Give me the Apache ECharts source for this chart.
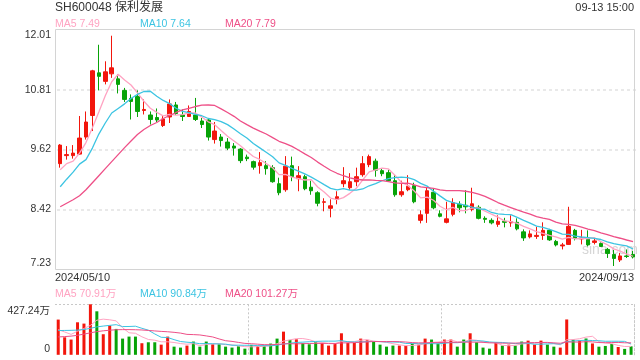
<!DOCTYPE html>
<html><head><meta charset="utf-8">
<script src="https://cdn.jsdelivr.net/npm/echarts@6/dist/echarts.min.js"></script>
<style>html,body{margin:0;padding:0;background:#fff}#c{width:640px;height:360px}</style>
</head><body><div id="c"></div>
<script>
// ---- trading days (category axis) ----
const mayDays = [10,13,14,15,16,17,20,21,22,23,24,27,28,29,30,31];
const junDays = [3,4,5,6,7,11,12,13,14,17,18,19,20,21,24,25,26,27,28];
const julDays = [1,2,3,4,5,8,9,10,11,12,15,16,17,18,19,22,23,24,25,26,29,30,31];
const augDays = [1,2,5,6,7,8,9,12,13,14,15,16,19,20,21,22,23,26,27,28,29,30];
const sepDays = [2,3,4,5,6,9,10,11,12,13];
const pad = d => (d < 10 ? '0' : '') + d;
const dates = [].concat(
  mayDays.map(d => '2024/05/' + pad(d)), junDays.map(d => '2024/06/' + pad(d)),
  julDays.map(d => '2024/07/' + pad(d)), augDays.map(d => '2024/08/' + pad(d)),
  sepDays.map(d => '2024/09/' + pad(d)));

// ---- OHLC: open, close, low, high ----
const opens  = [9.34,9.50,9.50,9.53,9.87,10.30,11.15,10.98,11.13,11.03,10.80,10.64,10.68,10.40,10.31,10.26,10.10,10.27,10.51,10.31,
                10.28,10.31,10.19,10.21,9.82,9.87,9.77,9.69,9.63,9.47,9.38,9.30,9.30,9.26,8.94,8.82,9.30,9.04,9.08,8.87,
                8.76,8.57,8.45,8.63,8.94,8.86,8.98,9.12,9.32,9.39,9.20,9.16,9.00,8.72,8.82,8.90,8.21,8.35,8.77,8.34,
                8.17,8.33,8.53,8.51,8.43,8.47,8.25,8.21,8.13,8.19,8.16,8.17,7.98,7.88,7.89,7.91,8.01,7.79,7.70,7.73,
                8.01,7.84,7.83,7.77,7.75,7.63,7.53,7.42,7.50,7.53];
const closes = [9.71,9.52,9.55,9.85,10.17,11.19,11.08,11.17,11.25,10.92,10.62,10.58,10.38,10.42,10.22,10.21,10.23,10.53,10.34,10.28,
                10.38,10.22,10.12,9.87,9.99,9.80,9.65,9.65,9.40,9.44,9.27,9.36,9.24,8.98,8.76,9.29,9.08,9.10,8.84,8.80,
                8.55,8.58,8.50,8.68,9.00,8.98,9.08,9.34,9.48,9.21,9.14,9.00,8.72,8.78,8.89,8.58,8.32,8.80,8.46,8.29,
                8.24,8.56,8.46,8.48,8.54,8.25,8.23,8.16,8.19,8.17,8.18,8.04,7.86,7.94,7.91,8.01,7.82,7.72,7.72,8.09,
                7.85,7.86,7.72,7.80,7.69,7.55,7.45,7.50,7.49,7.48];
const lows   = [9.26,9.42,9.44,9.52,9.82,9.99,10.80,10.92,11.05,10.74,10.57,10.22,10.27,10.32,10.12,10.17,10.07,10.15,10.31,10.19,
                10.27,10.19,10.05,9.80,9.74,9.68,9.61,9.50,9.35,9.39,9.22,9.14,9.12,8.96,8.71,8.78,8.99,8.79,8.81,8.72,
                8.49,8.39,8.27,8.53,8.87,8.82,8.89,9.08,9.27,9.08,9.09,8.98,8.68,8.68,8.79,8.55,8.15,8.16,8.43,8.27,
                8.15,8.29,8.37,8.35,8.39,8.23,8.16,8.13,8.08,8.07,8.08,8.01,7.80,7.85,7.84,7.82,7.80,7.69,7.63,7.72,
                7.81,7.73,7.69,7.73,7.68,7.46,7.30,7.38,7.46,7.45];
const highs  = [9.73,9.69,9.71,10.29,10.38,11.21,11.71,11.38,11.89,11.12,10.85,10.72,10.80,10.62,10.38,10.44,10.29,10.62,10.57,10.42,
                10.50,10.65,10.25,10.25,10.17,9.93,9.85,9.75,9.65,9.52,9.40,9.57,9.39,9.31,9.06,9.49,9.48,9.29,9.12,9.00,
                8.79,8.65,8.63,8.79,9.27,9.15,9.26,9.49,9.52,9.44,9.24,9.22,9.11,9.00,9.11,8.96,8.41,8.86,8.84,8.41,
                8.58,8.65,8.59,8.81,8.86,8.51,8.29,8.25,8.31,8.26,8.31,8.25,8.03,8.01,8.08,8.17,8.04,7.82,7.76,8.48,
                8.04,8.02,8.01,7.86,7.77,7.66,7.62,7.56,7.63,7.60];

// ---- volume (万手) ----
const volumes = [298,148,129,275,264,427.24,368,174,247,219,137,154,154,98,106,106,86,154,69,61,
                 78,112,69,112,89,89,69,61,72,52,84,76,76,95,137,196,126,131,98,89,
                 106,100,78,95,182,101,101,137,123,112,86,69,78,78,76,95,86,137,129,95,
                 129,129,69,129,182,106,61,52,106,78,86,78,112,120,86,120,86,69,61,299,
                 130,121,138,96,68.8,75,92,66,50,71.55];

// moving-average values before enough in-window history exists
const ma5Head  = [9.22,9.34,9.39,9.55];
const ma10Head = [8.88,9.03,9.17,9.33,9.42,9.65,9.93,10.15,10.35];
const ma20Head = [8.48,8.55,8.62,8.70,8.82,8.96,9.10,9.24,9.38,9.52,9.66,9.79,9.92,10.02,10.10,10.16,10.24,10.30,10.36];
const vma5Head  = [213,193,173,199];
const vma10Head = [205,206,207,209,214,224,236,243,249];
const vma20Head = [151,154,158,165,175,186,196,203,208,212,213,213,212,210,206,202,198,195,190];

// ---- texts / ticks ----
const titleText = 'SH600048 保利发展';
const timeText = '09-13 15:00';
const priceLegend = ['MA5 7.49', 'MA10 7.64', 'MA20 7.79'];
const volLegend = ['MA5 70.91万', 'MA10 90.84万', 'MA20 101.27万'];
const priceTicks = [7.23, 8.425, 9.62, 10.815, 12.01];
const priceTickLabels = ['7.23', '8.42', '9.62', '10.81', '12.01'];
const volTicks = [0, 427.24];
const volTickLabels = ['0', '427.24万'];

const RED = '#f2160c', GREEN = '#08a308';
const C5 = '#ffa3c2', C10 = '#3cc4e2', C20 = '#ee4f87';

function movingAvg(values, n, head) {
  return values.map((v, i) => {
    if (i < n - 1) return head[i];
    let s = 0;
    for (let k = i - n + 1; k <= i; k++) s += values[k];
    return +(s / n).toFixed(3);
  });
}

const ohlc = opens.map((o, i) => [o, closes[i], lows[i], highs[i]]);
const volData = volumes.map((v, i) => ({ value: v, itemStyle: { color: closes[i] >= opens[i] ? RED : GREEN } }));

const FONT = '"Liberation Sans", Arial, "Noto Sans CJK SC", sans-serif';
const chart = echarts.init(document.getElementById('c'), null, { renderer: 'canvas' });

function priceFmt(v) {
  const idx = priceTicks.findIndex(t => Math.abs(t - v) < 1e-6);
  const s = idx >= 0 ? priceTickLabels[idx] : v.toFixed(2);
  if (idx === priceTicks.length - 1) return '{top|' + s + '}';
  if (idx === 0) return '{bot|' + s + '}';
  return '{mid|' + s + '}';
}
function volFmt(v) {
  const idx = volTicks.findIndex(t => Math.abs(t - v) < 1e-6);
  const s = idx >= 0 ? volTickLabels[idx] : String(v);
  return idx === 0 ? '{bot|' + s + '}' : '{top|' + s + '}';
}
const labelRich = {
  top: { padding: [11, 0, 0, 0], fontSize: 10.5, color: '#333', fontFamily: FONT },
  mid: { fontSize: 10.5, color: '#333', fontFamily: FONT },
  bot: { padding: [0, 0, 13, 0], fontSize: 10.5, color: '#333', fontFamily: FONT }
};

const lineS = (name, data, color, xi, yi, w) => ({
  name, type: 'line', xAxisIndex: xi, yAxisIndex: yi, data, symbol: 'none', smooth: false,
  lineStyle: { color, width: w }, itemStyle: { color }, z: 3, silent: true
});

const txt = (x, y, text, color, size, align) => ({
  type: 'text', x, y, silent: true,
  style: { text, fill: color, font: size + 'px ' + FONT, textAlign: align || 'left', textVerticalAlign: 'middle' }
});

const option = {
  animation: false,
  backgroundColor: '#fff',
  textStyle: { fontFamily: FONT },
  grid: [
    { left: 57, right: 3.7, top: 29.7, height: 239.8 },
    { left: 55, right: 5.7, top: 304.3, height: 50.5 }
  ],
  xAxis: [
    { type: 'category', gridIndex: 0, data: dates, boundaryGap: true,
      axisLine: { show: false }, axisTick: { show: false }, axisLabel: { show: false }, splitLine: { show: false } },
    { type: 'category', gridIndex: 1, data: dates, boundaryGap: true,
      axisLine: { show: false }, axisTick: { show: false }, axisLabel: { show: false },
      splitLine: { show: true, interval: (i) => i === 30 || i === 60, lineStyle: { color: '#c8c8c8', type: [2, 2], width: 1 } } }
  ],
  yAxis: [
    { type: 'value', gridIndex: 0, min: 7.23, max: 12.01, scale: true,
      axisLine: { show: false },
      axisTick: { show: false, customValues: priceTicks.slice(1, 4) },
      axisLabel: { customValues: priceTicks, formatter: priceFmt, rich: labelRich, margin: 6 },
      splitLine: { show: true, lineStyle: { color: '#e4e4e4', type: [3, 3], width: 1.6 } } },
    { type: 'value', gridIndex: 1, min: 0, max: 427.24,
      axisLine: { show: false },
      axisTick: { show: false, customValues: [427.24] },
      axisLabel: { customValues: volTicks, formatter: volFmt, rich: {
        top: { padding: [14, 0, 0, 0], fontSize: 10.5, color: '#333', fontFamily: FONT },
        bot: { padding: [0, 0, 12, 0], fontSize: 10.5, color: '#333', fontFamily: FONT } }, margin: 5 },
      splitLine: { show: true, lineStyle: { color: '#c8c8c8', type: [2, 2], width: 1 } } },
    { type: 'value', gridIndex: 1, min: 0, max: 427.24, position: 'right',
      axisLine: { show: true, lineStyle: { color: '#c8c8c8', type: [2, 2], width: 1 } },
      axisTick: { show: false }, axisLabel: { show: false }, splitLine: { show: false } }
  ],
  graphic: [
    { type: 'rect', shape: { x: 55.5, y: 29.5, width: 579, height: 240 }, style: { fill: 'none', stroke: '#d4d4d4', lineWidth: 1 }, silent: true, z: 1 },
    txt(55, 8, titleText, '#333', 12),
    txt(634, 7.5, timeText, '#333', 11, 'right'),
    txt(55, 24, priceLegend[0], C5, 10.5),
    txt(140, 24, priceLegend[1], C10, 10.5),
    txt(225, 24, priceLegend[2], C20, 10.5),
    txt(55, 277.5, dates[0], '#333', 11),
    txt(634, 277.5, dates[dates.length - 1], '#333', 11, 'right'),
    txt(55, 294, volLegend[0], C5, 10.5),
    txt(140, 294, volLegend[1], C10, 10.5),
    txt(225, 294, volLegend[2], C20, 10.5),
    txt(582, 250, 'sina.com', '#d6d6d6', 14)
  ],
  series: [
    { type: 'candlestick', xAxisIndex: 0, yAxisIndex: 0, data: ohlc, barWidth: 4,
      itemStyle: { color: RED, color0: GREEN, borderColor: RED, borderColor0: GREEN, borderWidth: 1 }, z: 2, silent: true },
    lineS('MA5', movingAvg(closes, 5, ma5Head), C5, 0, 0, 1.3),
    lineS('MA10', movingAvg(closes, 10, ma10Head), C10, 0, 0, 1.3),
    lineS('MA20', movingAvg(closes, 20, ma20Head), C20, 0, 0, 1.3),
    { type: 'bar', xAxisIndex: 1, yAxisIndex: 1, data: volData, barWidth: 3, silent: true },
    lineS('VMA5', movingAvg(volumes, 5, vma5Head), C5, 1, 1, 1),
    lineS('VMA10', movingAvg(volumes, 10, vma10Head), C10, 1, 1, 1),
    lineS('VMA20', movingAvg(volumes, 20, vma20Head), C20, 1, 1, 1)
  ]
};
chart.setOption(option);
</script></body></html>
